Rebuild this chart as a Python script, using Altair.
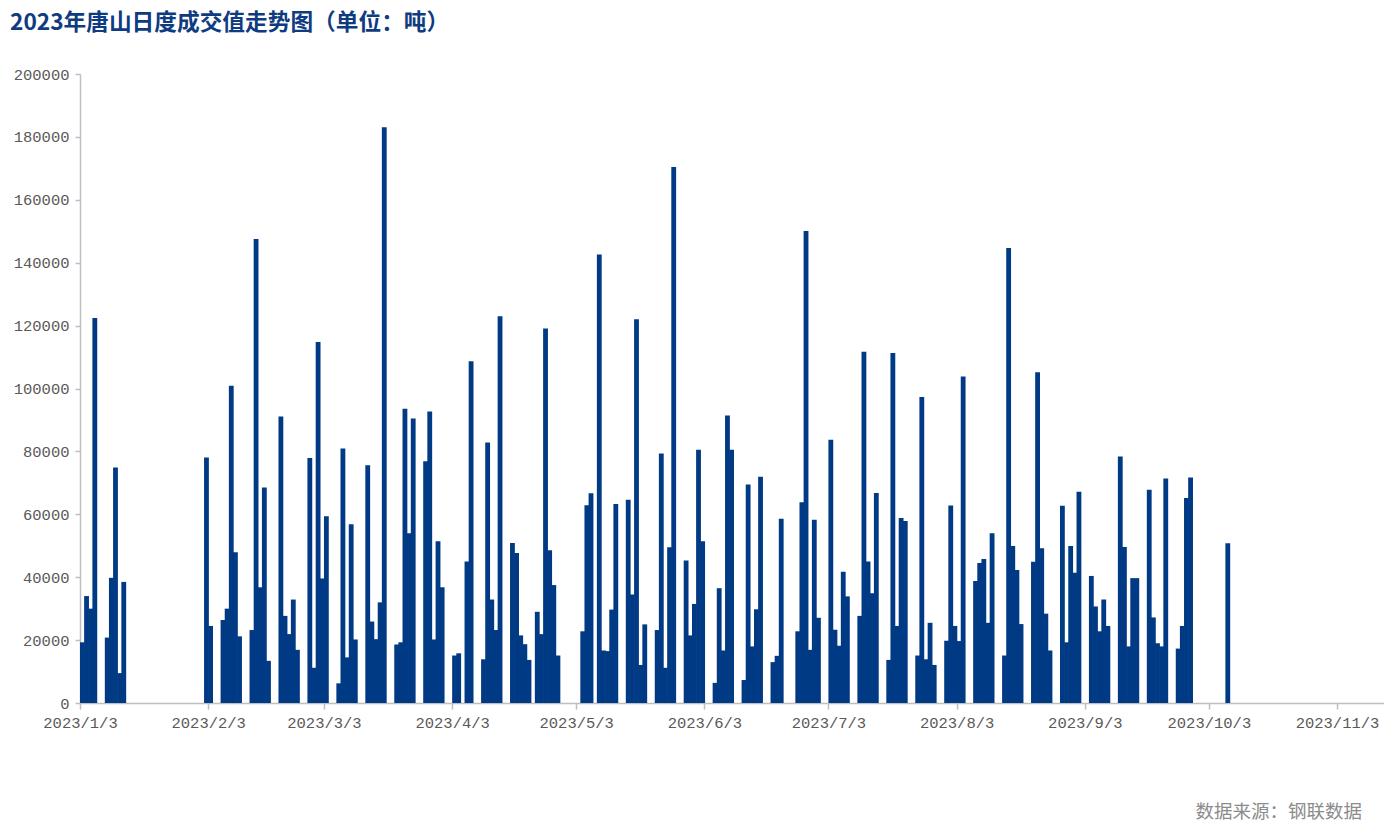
import altair as alt
import pandas as pd

# ---- data (tonnes per trading day) ----
dates = [
    "2023-01-03", "2023-01-04", "2023-01-05", "2023-01-06", "2023-01-09", "2023-01-10",
    "2023-01-11", "2023-01-12", "2023-01-13",
    "2023-02-02", "2023-02-03", "2023-02-06", "2023-02-07", "2023-02-08", "2023-02-09",
    "2023-02-10", "2023-02-13", "2023-02-14", "2023-02-15", "2023-02-16", "2023-02-17",
    "2023-02-20", "2023-02-21", "2023-02-22", "2023-02-23", "2023-02-24", "2023-02-27",
    "2023-02-28",
    "2023-03-01", "2023-03-02", "2023-03-03", "2023-03-06", "2023-03-07", "2023-03-08",
    "2023-03-09", "2023-03-10", "2023-03-13", "2023-03-14", "2023-03-15", "2023-03-16",
    "2023-03-17", "2023-03-20", "2023-03-21", "2023-03-22", "2023-03-23", "2023-03-24",
    "2023-03-27", "2023-03-28", "2023-03-29", "2023-03-30", "2023-03-31",
    "2023-04-03", "2023-04-04", "2023-04-06", "2023-04-07", "2023-04-10", "2023-04-11",
    "2023-04-12", "2023-04-13", "2023-04-14", "2023-04-17", "2023-04-18", "2023-04-19",
    "2023-04-20", "2023-04-21", "2023-04-23", "2023-04-24", "2023-04-25", "2023-04-26",
    "2023-04-27", "2023-04-28",
    "2023-05-04", "2023-05-05", "2023-05-06", "2023-05-08", "2023-05-09", "2023-05-10",
    "2023-05-11", "2023-05-12", "2023-05-15", "2023-05-16", "2023-05-17", "2023-05-18",
    "2023-05-19", "2023-05-22", "2023-05-23", "2023-05-24", "2023-05-25", "2023-05-26",
    "2023-05-29", "2023-05-30", "2023-05-31",
    "2023-06-01", "2023-06-02", "2023-06-05", "2023-06-06", "2023-06-07", "2023-06-08",
    "2023-06-09", "2023-06-12", "2023-06-13", "2023-06-14", "2023-06-15", "2023-06-16",
    "2023-06-19", "2023-06-20", "2023-06-21", "2023-06-25", "2023-06-26", "2023-06-27",
    "2023-06-28", "2023-06-29", "2023-06-30",
    "2023-07-03", "2023-07-04", "2023-07-05", "2023-07-06", "2023-07-07", "2023-07-10",
    "2023-07-11", "2023-07-12", "2023-07-13", "2023-07-14", "2023-07-17", "2023-07-18",
    "2023-07-19", "2023-07-20", "2023-07-21", "2023-07-24", "2023-07-25", "2023-07-26",
    "2023-07-27", "2023-07-28", "2023-07-31",
    "2023-08-01", "2023-08-02", "2023-08-03", "2023-08-04", "2023-08-07", "2023-08-08",
    "2023-08-09", "2023-08-10", "2023-08-11", "2023-08-14", "2023-08-15", "2023-08-16",
    "2023-08-17", "2023-08-18", "2023-08-21", "2023-08-22", "2023-08-23", "2023-08-24",
    "2023-08-25", "2023-08-28", "2023-08-29", "2023-08-30", "2023-08-31",
    "2023-09-01", "2023-09-04", "2023-09-05", "2023-09-06", "2023-09-07", "2023-09-08",
    "2023-09-11", "2023-09-12", "2023-09-13", "2023-09-14", "2023-09-15", "2023-09-18",
    "2023-09-19", "2023-09-20", "2023-09-21", "2023-09-22", "2023-09-25", "2023-09-26",
    "2023-09-27", "2023-09-28",
    "2023-10-07",
]

values = [
    19300, 34000, 30000, 122400, 20800, 39800,
    74900, 9500, 38500,
    78100, 24500, 26400, 30000, 100900, 47900,
    21200, 23200, 147500, 36800, 68500, 13400,
    91100, 27700, 21900, 32900, 16900, 77900,
    11200,
    114800, 39600, 59400, 6250, 80900, 14500,
    56800, 20200, 75600, 25900, 20300, 32000,
    183100, 18600, 19300, 93600, 54000, 90500,
    76900, 92700, 20200, 51400, 36800,
    15100, 15800, 45000, 108700, 13900, 82800,
    32900, 23200, 123000, 50900, 47700, 21500,
    18700, 13700, 29000, 21900, 119100, 48600,
    37500, 15100,
    22800, 62900, 66700, 142600, 16700, 16500,
    29700, 63300, 64600, 34500, 122000, 12100,
    25000, 23200, 79300, 11200, 49500, 170400,
    45300, 21500, 31500,
    80500, 51400, 6400, 36500, 16700, 91400,
    80500, 7300, 69500, 18000, 29800, 71900,
    13000, 15000, 58600, 22800, 63800, 150100,
    16900, 58300, 27100,
    83700, 23300, 18200, 41700, 33900, 27700,
    111700, 45000, 34900, 66800, 13700, 111300,
    24500, 58800, 57900, 15100, 97300, 13900,
    25500, 12100, 19800,
    62800, 24500, 19700, 103800, 38800, 44500,
    45800, 25500, 54000, 15100, 144700, 49900,
    42300, 25100, 44900, 105200, 49200, 28400,
    16700, 62700, 19300, 49900, 41400,
    67200, 40400, 30700, 22800, 32900, 24500,
    78400, 49600, 18000, 39700, 39700, 67800,
    27200, 19000, 18000, 71400, 17300, 24500,
    65200, 71700,
    50800,
]

tick_months = [1, 2, 3, 4, 5, 6, 7, 8, 9, 10, 11]
y_ticks = [0, 20000, 40000, 60000, 80000, 100000, 120000, 140000, 160000, 180000, 200000]

title_text = "2023年唐山日度成交值走势图（单位：吨）"
source_text = "数据来源：钢联数据"

# ---- build table ----
df = pd.DataFrame({"date": dates, "value": values})
# each bar spans its trading day; a small overlap hides anti-aliasing seams
df["date_end"] = (pd.to_datetime(df["date"]) + pd.Timedelta(hours=28)).dt.strftime("%Y-%m-%dT%H:%M:%SZ")
df["date"] = pd.to_datetime(df["date"]).dt.strftime("%Y-%m-%dT%H:%M:%SZ")

BLUE = "#013a84"
AXIS_GREY = "#bfbfbf"
LABEL_GREY = "#595959"
LABEL_FONT = "Liberation Mono"

W, H = 1304, 629

x_start = alt.DateTime(year=2023, month=1, date=3, utc=True)
x_end = alt.DateTime(year=2023, month=11, date=14, hours=8, minutes=40, utc=True)
tick_values = [alt.DateTime(year=2023, month=m, date=3, utc=True) for m in tick_months]

bars = alt.Chart(df).mark_bar(color=BLUE).encode(
    x=alt.X(
        "date:T",
        scale=alt.Scale(type="utc", domain=[x_start, x_end]),
        axis=alt.Axis(
            values=tick_values,
            labelExpr="utcFormat(datum.value, '%Y/%-m/%-d')",
            title=None,
            grid=False,
            domainColor=AXIS_GREY,
            domainWidth=1.5,
            tickColor=AXIS_GREY,
            tickWidth=1.5,
            tickSize=6,
            labelFont=LABEL_FONT,
            labelFontSize=15.5,
            labelColor=LABEL_GREY,
            labelPadding=6,
            labelFlush=False,
            labelOverlap=False,
        ),
    ),
    x2="date_end:T",
    y=alt.Y(
        "value:Q",
        scale=alt.Scale(domain=[0, 200000], nice=False),
        axis=alt.Axis(
            values=y_ticks,
            format="d",
            title=None,
            grid=False,
            domainColor=AXIS_GREY,
            domainWidth=1.5,
            tickColor=AXIS_GREY,
            tickWidth=1.5,
            tickSize=5,
            labelFont=LABEL_FONT,
            labelFontSize=15.5,
            labelColor=LABEL_GREY,
            labelPadding=6,
            labelFlush=False,
        ),
    ),
    y2=alt.datum(0),
)

footer = alt.Chart(pd.DataFrame({"t": [source_text]})).mark_text(
    align="right",
    baseline="middle",
    font="Noto Sans CJK SC",
    fontSize=18.5,
    color="#8c8c8c",
).encode(
    x=alt.value(W - 22),
    y=alt.value(H + 109),
    text="t:N",
)

chart = alt.layer(bars, footer).properties(
    width=W,
    height=H,
    autosize=alt.AutoSizeParams(type="none"),
    padding={"left": 72, "top": 66, "right": 0, "bottom": 127},
    title=alt.TitleParams(
        text=title_text,
        anchor="start",
        frame="group",
        dx=-70,
        offset=32,
        font="Noto Sans CJK SC",
        fontSize=22.7,
        fontWeight="bold",
        color="#0f3b80",
    ),
).configure_view(stroke=None)

chart.save("out.html", embed_options={"renderer": "svg", "actions": False})
